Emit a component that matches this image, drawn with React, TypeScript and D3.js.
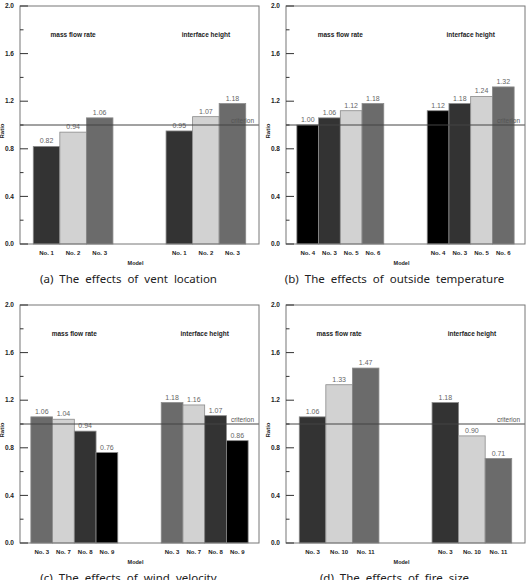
import * as d3 from 'd3'
import React from 'react'

// (a) vent location
const ventModels = ['No. 1', 'No. 2', 'No. 3']
const ventMass = [0.82, 0.94, 1.06]
const ventHeight = [0.95, 1.07, 1.18]

// (b) outside temperature
const tempModels = ['No. 4', 'No. 3', 'No. 5', 'No. 6']
const tempMass = [1.00, 1.06, 1.12, 1.18]
const tempHeight = [1.12, 1.18, 1.24, 1.32]

// (c) wind velocity
const windModels = ['No. 3', 'No. 7', 'No. 8', 'No. 9']
const windMass = [1.06, 1.04, 0.94, 0.76]
const windHeight = [1.18, 1.16, 1.07, 0.86]

// (d) fire size
const fireModels = ['No. 3', 'No. 10', 'No. 11']
const fireMass = [1.06, 1.33, 1.47]
const fireHeight = [1.18, 0.90, 0.71]

const groupNames = ['mass flow rate', 'interface height']
const criterion = 1.0

const BLACK = '#000000', DARK = '#333333', MID = '#6b6b6b', LIGHT = '#d2d2d2'

interface Props {
  left: number
  top: number
  caption: string
  models: string[]
  mass: number[]
  height: number[]
  fills: string[]
}

const W = 239, H = 238
const axisFont = '"Liberation Sans", Arial, sans-serif'

const Panel = ({ left, top, caption, models, mass, height, fills }: Props) => {
  const
    keys = [...models.map(m => 'a|' + m), 'gap1', 'gap2', ...models.map(m => 'b|' + m)],
    x = d3.scaleBand().domain(keys).range([0, W]).paddingOuter(0.5).paddingInner(0),
    y = d3.scaleLinear().domain([0, 2]).range([H, 0]),
    bw = x.bandwidth(),
    fmt = d3.format('.2f'),
    ticks = y.ticks(10),
    groups = [
      { name: groupNames[0], prefix: 'a|', values: mass },
      { name: groupNames[1], prefix: 'b|', values: height },
    ]

  return (
    <g transform={`translate(${left},${top})`}>
      {groups.map(g => {
        const x0 = x(g.prefix + models[0])!, x1 = x(g.prefix + models[models.length - 1])! + bw
        return (
          <g key={g.name}>
            <text x={(x0 + x1) / 2} y={31} textAnchor='middle' fontFamily={axisFont} fontWeight='bold' fontSize={6.5} fill='#222'>{g.name}</text>
            {g.values.map((v, i) => {
              const bx = x(g.prefix + models[i])!
              return (
                <g key={i}>
                  <rect x={bx} y={y(v)} width={bw} height={H - y(v)} fill={fills[i]} stroke='#8a8a8a' strokeWidth={0.8} />
                  <text x={bx + bw / 2} y={y(v) - 3} textAnchor='middle' fontFamily={axisFont} fontSize={7} fill='#666'>{fmt(v)}</text>
                  <text x={bx + bw / 2} y={H + 11} textAnchor='middle' fontFamily={axisFont} fontWeight='bold' fontSize={6} fill='#222'>{models[i]}</text>
                </g>
              )
            })}
          </g>
        )
      })}
      <line x1={0} x2={W} y1={y(criterion)} y2={y(criterion)} stroke='#444' strokeWidth={1} />
      <text x={W - 5} y={y(criterion) - 2.5} textAnchor='end' fontFamily={axisFont} fontSize={6.5} fill='#555'>criterion</text>
      <rect x={0} y={0} width={W} height={H} fill='none' stroke='#777' strokeWidth={1} />
      {ticks.map((t, i) => {
        const major = i % 2 === 0
        return (
          <g key={t}>
            <line x1={0} x2={major ? 8 : 3.5} y1={y(t)} y2={y(t)} stroke='#333' strokeWidth={1} />
            {major && <text x={-6} y={y(t) + 2.2} textAnchor='end' fontFamily={axisFont} fontWeight='bold' fontSize={6.5} fill='#222'>{d3.format('.1f')(t)}</text>}
          </g>
        )
      })}
      <text transform={`translate(${-16},${H / 2 + 6}) rotate(-90)`} textAnchor='middle' fontFamily={axisFont} fontWeight='bold' fontSize={6} fill='#222'>Ratio</text>
      <text x={W / 2 - 4} y={H + 21} textAnchor='middle' fontFamily={axisFont} fontWeight='bold' fontSize={5.5} fill='#222'>Model</text>
      <text x={W / 2 - 11} y={H + 39} textAnchor='middle' fontFamily='"Noto Sans", sans-serif' fontSize={11.5} wordSpacing={3} fill='#222'>{caption}</text>
    </g>
  )
}

export default function App() {
  return (
    <svg width={529} height={580} style={{ position: 'absolute', left: 0, top: 0, background: '#fff' }}>
      <rect width={529} height={580} fill='#fff' />
      <Panel left={20} top={6} caption='(a) The effects of vent location' models={ventModels} mass={ventMass} height={ventHeight} fills={[DARK, LIGHT, MID]} />
      <Panel left={286} top={6} caption='(b) The effects of outside temperature' models={tempModels} mass={tempMass} height={tempHeight} fills={[BLACK, DARK, LIGHT, MID]} />
      <Panel left={20} top={305} caption='(c) The effects of wind velocity' models={windModels} mass={windMass} height={windHeight} fills={[MID, LIGHT, DARK, BLACK]} />
      <Panel left={286} top={305} caption='(d) The effects of fire size' models={fireModels} mass={fireMass} height={fireHeight} fills={[DARK, LIGHT, MID]} />
    </svg>
  )
}
